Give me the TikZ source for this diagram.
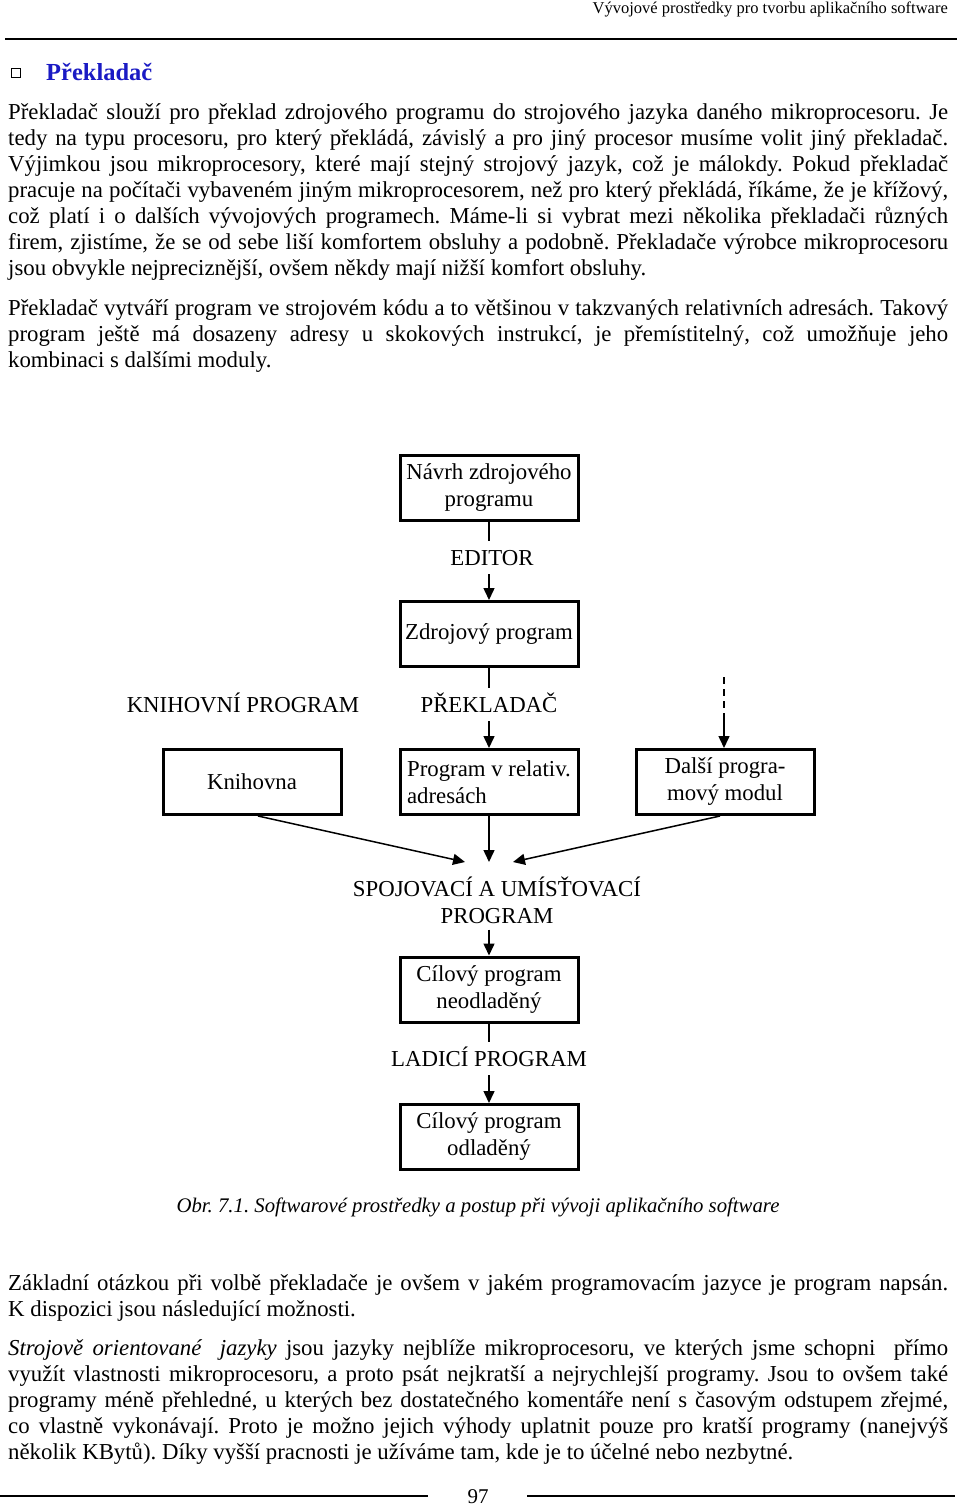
\documentclass[tikz,border=0pt]{standalone}
\usepackage{fontspec}
\setmainfont{Liberation Serif}
\usetikzlibrary{arrows.meta}
\definecolor{titleblue}{RGB}{26,26,196}
\newcommand{\bodyfont}{\fontsize{22.8}{26}\selectfont}
\newcommand{\dfont}{\fontsize{22.8}{27}\selectfont}
\newcommand{\jl}[1]{\hbox to 940pt{#1}}
\frenchspacing
\tikzset{
  para/.style={anchor=base west, inner sep=0pt, text width=940pt, align=justify, font=\bodyfont},
  box/.style={draw, line width=3pt, minimum width=178pt, minimum height=65pt, inner sep=4pt, align=center, font=\dfont},
  lbl/.style={font=\dfont, text height=15pt, text depth=0pt, inner xsep=2pt, inner ysep=9pt, anchor=base},
  conn/.style={line width=1.5pt},
  arr/.style={conn, -{Triangle[length=12pt,width=11pt]}},
}
\begin{document}
\begin{tikzpicture}[x=1pt,y=-1pt]
\useasboundingbox (0,0) rectangle (960,1506);
\fill[white] (0,0) rectangle (960,1506);
% header
\node[anchor=base east, inner sep=0pt, font=\fontsize{16.5}{18}\selectfont] (hdr) at (948,14) {Vývojové prostředky pro tvorbu aplikačního software};
\draw[line width=2pt] (5,39) -- (957,39);
% title
\draw[line width=1pt] (11,69) rectangle (20,78);
\node[anchor=base west, inner sep=0pt, font=\fontsize{24.5}{28}\selectfont\bfseries, text=titleblue] (title) at (46,81) {Překladač};
% paragraph 1
\node[para] (p1) at (8,120) {%
\jl{Překladač slouží pro překlad zdrojového programu do strojového jazyka daného mikroprocesoru. Je}\\
\jl{tedy na typu procesoru, pro který překládá, závislý a pro jiný procesor musíme volit jiný překladač.}\\
\jl{Výjimkou jsou mikroprocesory, které mají stejný strojový jazyk, což je málokdy. Pokud překladač}\\
\jl{pracuje na počítači vybaveném jiným mikroprocesorem, než pro který překládá, říkáme, že je křížový,}\\
\jl{což platí i o dalších vývojových programech. Máme-li si vybrat mezi několika překladači různých}\\
\jl{firem, zjistíme, že se od sebe liší komfortem obsluhy a podobně. Překladače výrobce mikroprocesoru}\\
jsou obvykle nejpreciznější, ovšem někdy mají nižší komfort obsluhy.};
% paragraph 2
\node[para] (p2) at (8,315) {%
\jl{Překladač vytváří program ve strojovém kódu a to většinou v takzvaných relativních adresách. Takový}\\
\jl{program ještě má dosazeny adresy u skokových instrukcí, je přemístitelný, což umožňuje jeho}\\
kombinaci s dalšími moduly.};
% diagram
\node[box] (navrh) at (489,487.5) {Návrh zdrojového\\programu};
\node[lbl] (editor) at (492,565) {EDITOR};
\node[box] (zdroj) at (489,634) {Zdrojový program};
\node[lbl] (prekl) at (489,712) {PŘEKLADAČ};
\node[lbl] (knihp) at (243,712) {KNIHOVNÍ PROGRAM};
\node[box] (knih) at (252,782) {Knihovna};
\node[box, align=left] (prog) at (489,782) {Program v relativ.\\adresách};
\node[box] (dalsi) at (725,782) {Další progra-\\mový modul};
\coordinate (dtop) at (724,677);
\coordinate (dmid) at (724,716);
\coordinate (jl) at (465,862);
\coordinate (jm) at (489,862);
\coordinate (jr) at (513,862);
\node[font=\dfont, align=center, inner sep=6pt] (spoj) at (497,900) {SPOJOVACÍ A UMÍSŤOVACÍ\\PROGRAM};
\node[box] (cil1) at (489,989.5) {Cílový program\\neodladěný};
\node[lbl] (ladici) at (489,1066) {LADICÍ PROGRAM};
\node[box] (cil2) at (489,1137) {Cílový program\\odladěný};
\draw[conn] (navrh.south) -- (navrh.south |- editor.north);
\draw[arr] (zdroj.north |- editor.south) -- (zdroj.north);
\draw[conn] (zdroj.south) -- (zdroj.south |- prekl.north);
\draw[arr] (prog.north |- prekl.south) -- (prog.north);
\draw[conn, dash pattern=on 7pt off 5pt] (dtop) -- (dmid);
\draw[arr] (dmid) -- (dmid |- dalsi.north);
\draw[arr] ([xshift=6pt]knih.south) -- (jl);
\draw[arr] (prog.south) -- (jm);
\draw[arr] ([xshift=-5pt]dalsi.south) -- (jr);
\draw[arr] (cil1.north |- spoj.south) -- (cil1.north);
\draw[conn] (cil1.south) -- (cil1.south |- ladici.north);
\draw[arr] (cil2.north |- ladici.south) -- (cil2.north);
% caption
\node[anchor=base, inner sep=0pt, font=\fontsize{20.75}{24}\selectfont\itshape] (cap) at (478,1212) {Obr. 7.1. Softwarové prostředky a postup při vývoji aplikačního software};
% paragraph 3
\node[para] (p3) at (8,1290) {%
\jl{Základní otázkou při volbě překladače je ovšem v~jakém programovacím jazyce je program napsán.}\\
K~dispozici jsou následující možnosti.};
% paragraph 4
\node[para] (p4) at (8,1355) {%
\jl{\textit{Strojově orientované\ \ jazyky} jsou jazyky nejblíže mikroprocesoru, ve kterých jsme schopni\ \ přímo}\\
\jl{využít vlastnosti mikroprocesoru, a proto psát nejkratší a nejrychlejší programy. Jsou to ovšem také}\\
\jl{programy méně přehledné, u kterých bez dostatečného komentáře není s~časovým odstupem zřejmé,}\\
\jl{co vlastně vykonávají. Proto je možno jejich výhody uplatnit pouze pro kratší programy (nanejvýš}\\
několik KBytů). Díky vyšší pracnosti je užíváme tam, kde je to účelné nebo nezbytné.};
% footer
\draw[line width=1.5pt] (0,1496) -- (428,1496);
\draw[line width=1.5pt] (527,1496) -- (955,1496);
\node[anchor=base, inner sep=0pt, font=\fontsize{21}{24}\selectfont] (pg) at (478,1503) {97};
\end{tikzpicture}
\end{document}
